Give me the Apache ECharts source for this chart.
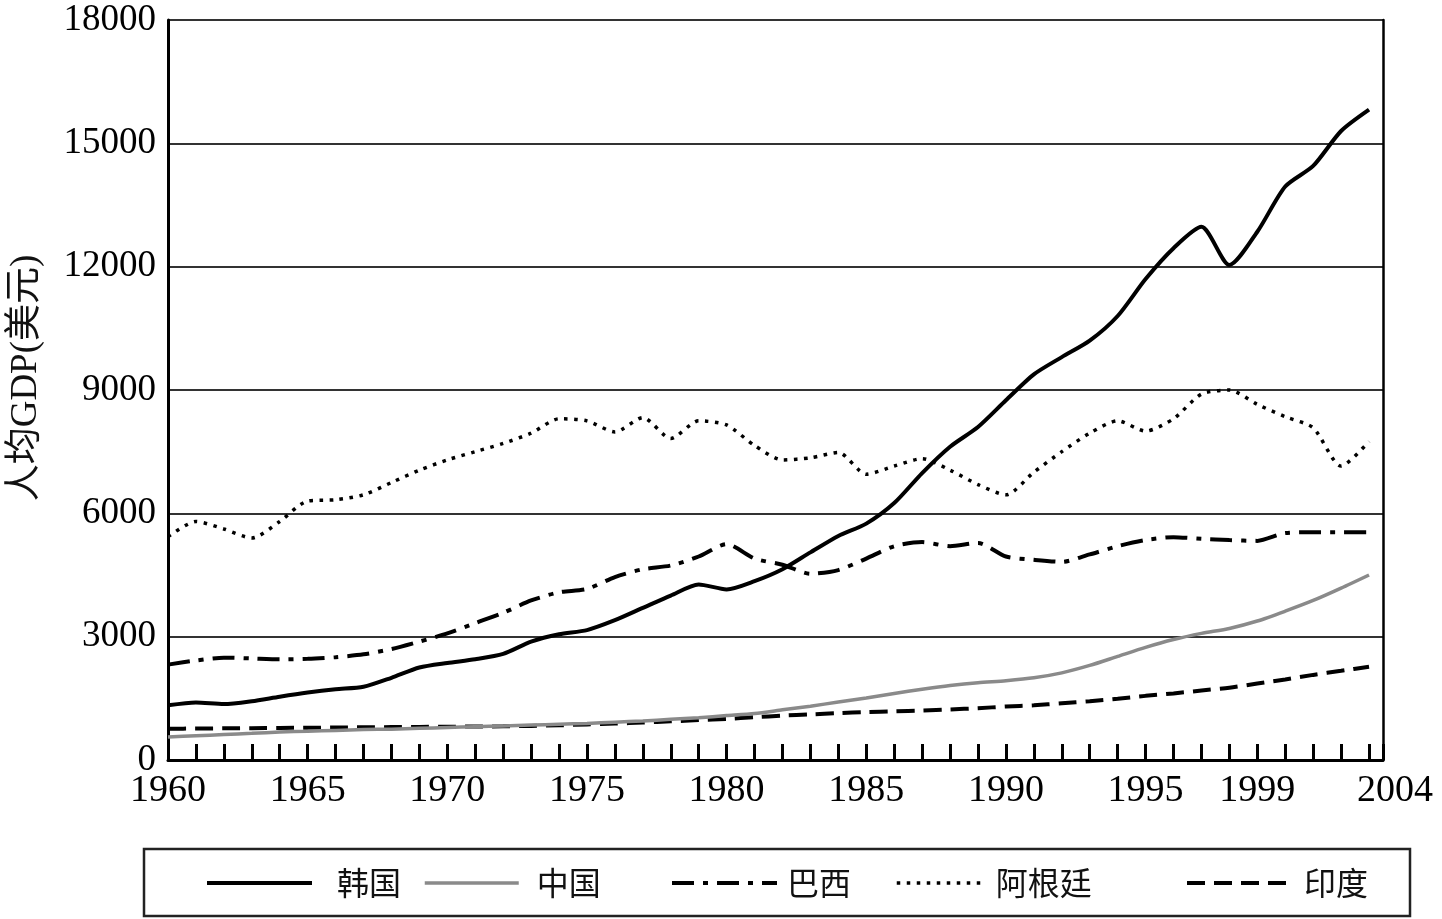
<!DOCTYPE html>
<html>
<head>
<meta charset="utf-8">
<script src="https://cdn.jsdelivr.net/npm/echarts@6/dist/echarts.min.js"></script>
<style>
html,body{margin:0;padding:0;background:#fff;}
#chart{width:1442px;height:919px;}
</style>
</head>
<body>
<div id="chart"></div>
<script>
const years = [1960,1961,1962,1963,1964,1965,1966,1967,1968,1969,1970,1971,1972,1973,1974,1975,1976,1977,1978,1979,1980,1981,1982,1983,1984,1985,1986,1987,1988,1989,1990,1991,1992,1993,1994,1995,1996,1997,1998,1999,2000,2001,2002,2003];
const korea = [1330,1400,1360,1430,1540,1640,1720,1780,2000,2250,2360,2450,2580,2880,3060,3160,3400,3700,4000,4270,4150,4350,4640,5050,5450,5750,6250,6980,7620,8100,8750,9380,9800,10200,10800,11700,12450,12970,12040,12850,13950,14450,15300,15820];
const china = [560,590,620,650,680,700,720,740,750,770,790,810,830,850,870,890,920,950,990,1030,1080,1130,1220,1310,1410,1510,1620,1720,1810,1880,1930,2000,2120,2300,2520,2740,2930,3080,3200,3380,3620,3880,4180,4500];
const brazil = [2320,2420,2490,2470,2450,2460,2500,2570,2700,2880,3080,3330,3580,3880,4080,4160,4450,4640,4730,4950,5250,4900,4750,4530,4620,4900,5200,5300,5200,5280,4950,4870,4820,5000,5200,5350,5420,5380,5350,5330,5520,5540,5540,5540];
const argentina = [5430,5800,5620,5400,5800,6300,6330,6450,6750,7050,7300,7500,7700,7950,8300,8250,7980,8330,7820,8250,8150,7650,7300,7350,7480,6950,7150,7330,7050,6700,6450,7000,7500,7950,8250,8000,8300,8900,9000,8650,8350,8080,7150,7750];
const india = [760,765,770,775,780,785,790,795,800,805,810,815,820,830,845,865,885,910,940,970,1000,1040,1080,1110,1140,1165,1185,1205,1230,1260,1300,1330,1380,1430,1490,1560,1620,1690,1760,1860,1960,2070,2170,2270];
const xLabels = {1960:'1960',1965:'1965',1970:'1970',1975:'1975',1980:'1980',1985:'1985',1990:'1990',1995:'1995',1999:'1999'};
const lastLabel = '2004';
const seriesNames = ['韩国','中国','巴西','阿根廷','印度'];
const yTitle = '人均GDP(美元)';

const pair = arr => years.map((y,i)=>[y,arr[i]]);
const serif = 'Liberation Serif';
const cjk = 'Noto Sans CJK SC';

const styles = {
  '韩国':{color:'#000', width:4, type:'solid'},
  '中国':{color:'#8a8a8a', width:3.5, type:'solid'},
  '巴西':{color:'#000', width:4, type:[22,9,5,9]},
  '阿根廷':{color:'#000', width:3.5, type:[3.5,6.5]},
  '印度':{color:'#000', width:4, type:[18,9]}
};

const chart = echarts.init(document.getElementById('chart'), null, {renderer:'canvas'});

function mkLegend(name, left, w, pad){
  const s = styles[name];
  return {
    data:[name], left:left, top:862, itemWidth:w, itemHeight:14,
    itemStyle:{opacity:0},
    lineStyle:{color:s.color, width:s.width, type:s.type, opacity:1},
    textStyle:{fontFamily:cjk, fontSize:32, color:'#111', padding:[0,0,0,pad]},
    selectedMode:false
  };
}

function mkSeries(name, arr, z){
  const s = styles[name];
  return {name:name, type:'line', data:pair(arr), symbol:'none', showSymbol:false,
    smooth:0.25, z:z, itemStyle:{color:s.color},
    lineStyle:{color:s.color, width:s.width, type:s.type}};
}

chart.setOption({
  animation:false,
  backgroundColor:'#fff',
  grid:{left:167, right:59, top:20, bottom:159, containLabel:false},
  graphic:[{
    type:'rect', shape:{x:144, y:849, width:1266, height:67},
    style:{fill:'none', stroke:'#222', lineWidth:2.5}, z:-1
  }],
  legend:[
    mkLegend(seriesNames[0], 200, 105, 20),
    mkLegend(seriesNames[1], 418, 94, 13),
    mkLegend(seriesNames[2], 665, 105, 5),
    mkLegend(seriesNames[3], 890, 86, 8),
    mkLegend(seriesNames[4], 1180, 105, 7)
  ],
  xAxis:{
    type:'value', min:1960, max:2003.5, interval:1,
    axisLine:{show:true, onZero:false, lineStyle:{color:'#000', width:3}},
    axisTick:{show:true, inside:true, length:16, lineStyle:{color:'#000', width:3}},
    splitLine:{show:false},
    axisLabel:{
      show:true, margin:12, color:'#000', fontFamily:serif, fontSize:38,
      showMinLabel:true, showMaxLabel:true, hideOverlap:false,
      formatter:function(v){
        if (v > 2003) return '{s|' + lastLabel + '}';
        return xLabels[v] || '';
      },
      rich:{s:{fontFamily:serif, fontSize:38, color:'#000', padding:[0,0,0,24]}}
    }
  },
  yAxis:[{
    type:'value', min:0, max:18000, interval:3000,
    name:yTitle, nameLocation:'middle', nameRotate:90, nameGap:123,
    nameTextStyle:{fontFamily:serif + ',' + cjk, fontSize:37, color:'#111', padding:[0,0,0,24]},
    axisLine:{show:true, lineStyle:{color:'#000', width:3}},
    axisTick:{show:false},
    splitLine:{show:true, lineStyle:{color:'#333', width:2}},
    axisLabel:{margin:12, color:'#000', fontFamily:serif, fontSize:37,
      formatter:function(v){ return String(v); }}
  },{
    type:'value', min:0, max:18000, interval:3000, position:'right',
    axisLine:{show:true, lineStyle:{color:'#000', width:2.5}},
    axisTick:{show:false}, axisLabel:{show:false}, splitLine:{show:false}
  }],
  series:[
    mkSeries(seriesNames[4], india, 2),
    mkSeries(seriesNames[1], china, 3),
    mkSeries(seriesNames[3], argentina, 3),
    mkSeries(seriesNames[2], brazil, 3),
    mkSeries(seriesNames[0], korea, 4)
  ]
});
</script>
</body>
</html>
